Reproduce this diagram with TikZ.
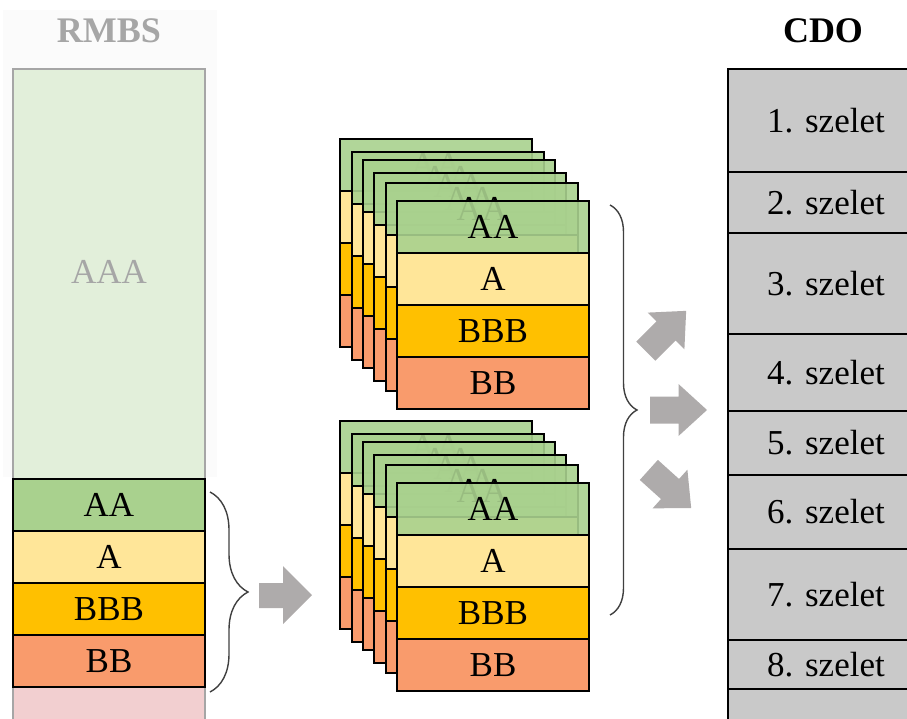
\documentclass[tikz,border=0pt]{standalone}
\usepackage{fontspec}
\setmainfont{Liberation Serif}
\usetikzlibrary{decorations.pathreplacing}
\definecolor{cAA}{HTML}{A9D18E}
\definecolor{cA}{HTML}{FFE699}
\definecolor{cBBB}{HTML}{FFC000}
\definecolor{cBB}{HTML}{F99B6C}
\definecolor{cAAA}{HTML}{E2EFDA}
\definecolor{cPink}{HTML}{F2CFD0}
\definecolor{cCDO}{HTML}{C9C9C9}
\definecolor{cArrow}{HTML}{AEABAB}
\definecolor{cHead}{HTML}{A6A6A6}
\definecolor{cBrace}{HTML}{404040}
% back card: only the AA band text shows (faintly, through the translucent fills)
\newcommand\backcard[3]{%
  \node[band,fill=cAA,fill opacity=0.9] (#1-1) at (#2,#3) {AA};
  \node[band,fill=cA] (#1-2) at (#2,#3+52) {};
  \node[band,fill=cBBB] (#1-3) at (#2,#3+104) {};
  \node[band,fill=cBB] (#1-4) at (#2,#3+156) {};
}
\newcommand\frontcard[3]{%
  \node[band,fill=cAA,fill opacity=0.9] (#1-1) at (#2,#3) {AA};
  \node[band,fill=cA] (#1-2) at (#2,#3+52) {A};
  \node[band,fill=cBBB] (#1-3) at (#2,#3+104) {BBB};
  \node[band,fill=cBB] (#1-4) at (#2,#3+156) {BB};
}
\newcommand\blockarrow[3]{%
  \fill[cArrow, shift={(#1,#2)}, rotate=#3]
    (-28.5,-13.5) -- (0,-13.5) -- (0,-26) -- (28.5,0) -- (0,26) -- (0,13.5) -- (-28.5,13.5) -- cycle;
}
\begin{document}
\begin{tikzpicture}[x=1pt,y=-1pt,
  font=\fontsize{35}{40}\selectfont,
  band/.style={draw=black, line width=2.2pt, text opacity=1,
    minimum width=192pt, minimum height=52pt, inner sep=0pt, outer sep=0pt, anchor=north west},
  slice/.style={draw=black, fill=cCDO, line width=2.2pt, minimum width=196pt,
    inner sep=0pt, outer sep=0pt, anchor=north west},
  head/.style={font=\fontsize{36}{40}\selectfont\bfseries},
  bracestyle/.style={draw=cBrace, line width=1.4pt, decorate}]
\useasboundingbox (0,0) rectangle (907,719);
\clip (0,0) rectangle (907,719);

% ---------- RMBS ----------
\fill[black!1.5] (3,10) rectangle (217,477);
\node[head, text=cHead] (rmbs) at (109,31) {RMBS};
\draw[cHead, line width=2pt, fill=cAAA] (13,69) rectangle (205,479);
\draw[cHead, line width=2pt, fill=cPink] (13,687) rectangle (205,740);
\node[text=cHead] (aaa) at (109,272) {AAA};
\node[band,fill=cAA] (r1) at (13,479) {AA};
\node[band,fill=cA] (r2) at (13,531) {A};
\node[band,fill=cBBB] (r3) at (13,583) {BBB};
\node[band,fill=cBB] (r4) at (13,635) {BB};

\coordinate (lb1) at (210,492);
\coordinate (lb2) at (210,692);
\draw[bracestyle, decoration={brace,amplitude=38pt}] (lb1) -- (lb2);

% left arrow
\fill[cArrow] (259,583) -- (283,583) -- (283,566) -- (312,595) -- (283,624) -- (283,608) -- (259,608) -- cycle;

% ---------- stacked cards ----------
\foreach \n/\x/\y in {1/340/139, 2/352/152, 3/363/160, 4/374/173, 5/386/183}{
  \backcard{t\n}{\x}{\y}
}
\frontcard{t6}{397}{201}
\foreach \n/\x/\y in {1/340/421, 2/352/434, 3/363/442, 4/374/455, 5/386/465}{
  \backcard{b\n}{\x}{\y}
}
\frontcard{b6}{397}{483}

\coordinate (rb1) at (610,205);
\coordinate (rb2) at (610,615);
\draw[bracestyle, decoration={brace,amplitude=27pt}] (rb1) -- (rb2);

% three arrows
\blockarrow{666}{331}{45}
\blockarrow{678.5}{410}{0}
\blockarrow{670}{489}{-42}

% ---------- CDO ----------
\node[head] (cdo) at (823,31) {CDO};
\node[slice, minimum height=103pt] (s1) at (728,69) {1. szelet};
\node[slice, minimum height=61pt] (s2) at (728,172) {2. szelet};
\node[slice, minimum height=101pt] (s3) at (728,233) {3. szelet};
\node[slice, minimum height=77pt] (s4) at (728,334) {4. szelet};
\node[slice, minimum height=64pt] (s5) at (728,411) {5. szelet};
\node[slice, minimum height=74pt] (s6) at (728,475) {6. szelet};
\node[slice, minimum height=91pt] (s7) at (728,549) {7. szelet};
\node[slice, minimum height=49pt] (s8) at (728,640) {8. szelet};
\node[slice, minimum height=50pt] (s9) at (728,689) {};
\end{tikzpicture}
\end{document}
